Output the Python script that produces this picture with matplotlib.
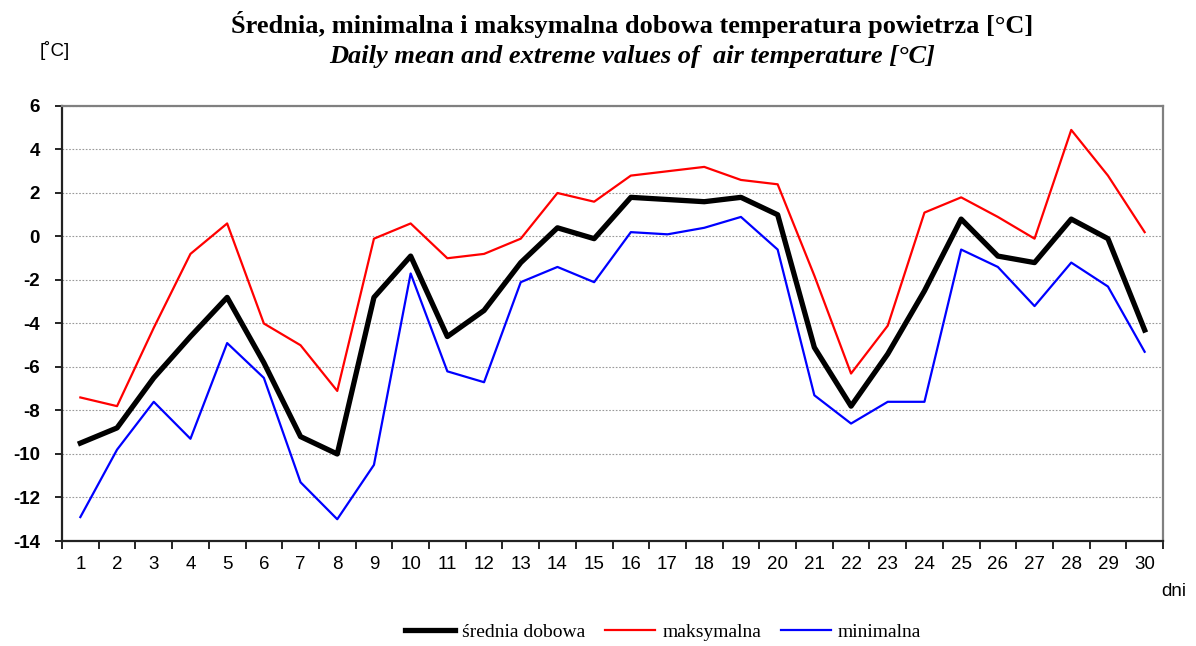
import matplotlib.pyplot as plt
import numpy as np

plt.rcParams['axes.unicode_minus'] = False

# data
days = list(range(1, 31))
t_mean = [-9.5, -8.8, -6.5, -4.6, -2.8, -5.8, -9.2, -10.0, -2.8, -0.9,
          -4.6, -3.4, -1.2, 0.4, -0.1, 1.8, 1.7, 1.6, 1.8, 1.0,
          -5.1, -7.8, -5.4, -2.5, 0.8, -0.9, -1.2, 0.8, -0.1, -4.3]
t_max = [-7.4, -7.8, -4.2, -0.8, 0.6, -4.0, -5.0, -7.1, -0.1, 0.6,
         -1.0, -0.8, -0.1, 2.0, 1.6, 2.8, 3.0, 3.2, 2.6, 2.4,
         -1.8, -6.3, -4.1, 1.1, 1.8, 0.9, -0.1, 4.9, 2.8, 0.2]
t_min = [-12.9, -9.8, -7.6, -9.3, -4.9, -6.5, -11.3, -13.0, -10.5, -1.7,
         -6.2, -6.7, -2.1, -1.4, -2.1, 0.2, 0.1, 0.4, 0.9, -0.6,
         -7.3, -8.6, -7.6, -7.6, -0.6, -1.4, -3.2, -1.2, -2.3, -5.3]
y_ticks = list(range(-14, 7, 2))

fig = plt.figure(figsize=(11.96, 6.46), dpi=100)
ax = fig.add_axes([62 / 1196, 1 - 541 / 646, 1101 / 1196, 435 / 646])

ax.plot(days, t_mean, color='black', lw=3.8, label='średnia dobowa', zorder=4)
ax.plot(days, t_max, color='#ff0000', lw=1.6, label='maksymalna', zorder=3)
ax.plot(days, t_min, color='#0000ff', lw=1.6, label='minimalna', zorder=3)

ax.set_xlim(0.5, 30.5)
ax.set_ylim(-14, 6)
ax.set_yticks(y_ticks)
ax.set_xticks(days)
ax.set_xticks(np.arange(0.5, 31, 1), minor=True)

ax.yaxis.grid(True, color='#999999', ls=(0, (1.5, 1.5)), lw=0.8)
ax.set_axisbelow(True)

ax.tick_params(axis='x', which='major', length=0, pad=11, labelsize=13.5)
ax.tick_params(axis='x', which='minor', length=6, width=1.2, direction='out')
ax.tick_params(axis='y', length=5, width=1.2, direction='out', pad=11, labelsize=13.5)
for lbl in ax.get_yticklabels():
    lbl.set_fontweight('bold')
for lbl in ax.get_xticklabels() + ax.get_yticklabels():
    lbl.set_family('Liberation Sans')

for side in ['top', 'right']:
    ax.spines[side].set_color('#808080')
    ax.spines[side].set_linewidth(1.6)
for side in ['left', 'bottom']:
    ax.spines[side].set_color('#222222')
    ax.spines[side].set_linewidth(1.6)

fig.text(632 / 1196, 1 - 24 / 646, 'Średnia, minimalna i maksymalna dobowa temperatura powietrza [°C]',
         ha='center', va='center', family='Liberation Serif', fontweight='bold', fontsize=19)
fig.text(632 / 1196, 1 - 57 / 646, 'Daily mean and extreme values of  air temperature [°C]',
         ha='center', va='center', family='Liberation Serif', fontweight='bold', style='italic', fontsize=19)
fig.text(55 / 1196, 1 - 51 / 646, '[˚C]', ha='center', va='center', family='Liberation Sans', fontsize=13.5)
fig.text(1174 / 1196, 1 - 592 / 646, 'dni', ha='center', va='center', family='Liberation Sans', fontsize=13.5)

fig.legend(loc='center', bbox_to_anchor=(663 / 1196, 1 - 632 / 646), ncol=3, frameon=False,
           prop={'family': 'Liberation Serif', 'size': 14}, handlelength=2.6,
           handletextpad=0.35, columnspacing=1.0)

fig.savefig('out.png', dpi=100)
